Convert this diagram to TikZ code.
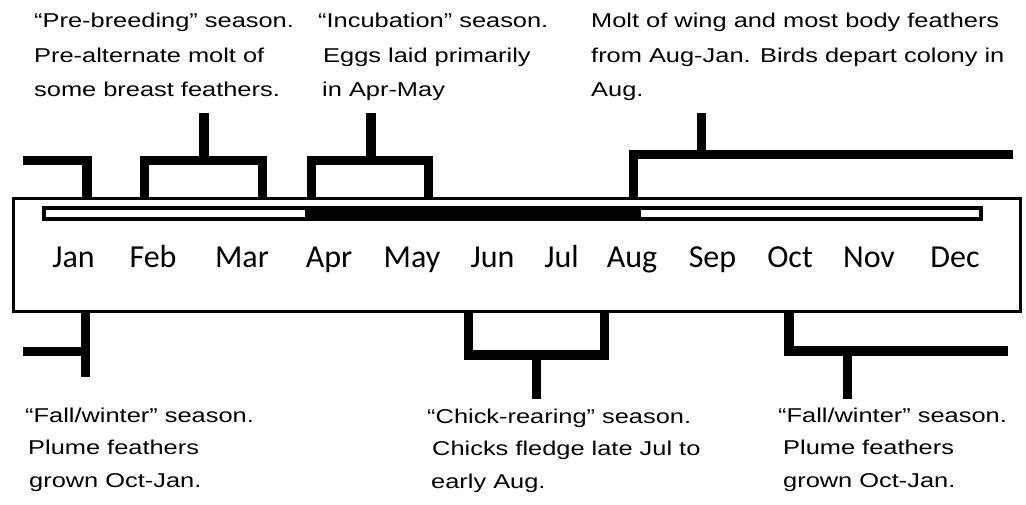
\documentclass[tikz,border=0pt]{standalone}
\usepackage{fontspec}
\newfontfamily\annfont[FakeStretch=1.27]{Liberation Sans}
\newfontfamily\monthfont{Carlito}
\begin{document}
\begin{tikzpicture}[x=1bp,y=-1bp,
  bracket/.style={line width=9.5bp, line join=miter, line cap=butt},
  anntop/.style={anchor=base west, inner sep=0, align=left, font=\annfont\fontsize{20bp}{34.5bp}\selectfont},
  annbot/.style={anchor=base west, inner sep=0, align=left, font=\annfont\fontsize{20bp}{32.5bp}\selectfont},
  month/.style={anchor=base, inner sep=0, font=\monthfont\fontsize{32bp}{38bp}\selectfont}]
\useasboundingbox (0,0) rectangle (1026,505);
% outer box
\draw[line width=3bp] (13,198.5) rectangle (1020,312);
% year bar
\draw[line width=4bp, fill=white] (44,208) rectangle (981,219);
\fill (305,206) rectangle (641,221);
% months
\foreach \m/\x in {Jan/73.5,Feb/153,Mar/242,Apr/329,May/412,Jun/492.5,Jul/561.5,Aug/632,Sep/712.5,Oct/790,Nov/869,Dec/955}
  \node[month] (m\m) at (\x,268) {\m};
% top brackets
\draw[bracket] (23,160.5) -- (87,160.5) -- (87,198);
\draw[bracket] (144.5,198) -- (144.5,160.5) -- (262.5,160.5) -- (262.5,198);
\draw[bracket] (204,113) -- (204,160.5);
\draw[bracket] (311.5,198) -- (311.5,160.5) -- (428.5,160.5) -- (428.5,198);
\draw[bracket] (371,113) -- (371,160.5);
\draw[bracket] (633.5,198) -- (633.5,154.5) -- (1013,154.5);
\draw[bracket] (701.5,113) -- (701.5,154.5);
% bottom brackets
\draw[bracket] (23,351.5) -- (85.5,351.5);
\draw[bracket] (85.5,312) -- (85.5,377);
\draw[bracket] (468.5,312) -- (468.5,355) -- (604.5,355) -- (604.5,312);
\draw[bracket] (536.5,355) -- (536.5,399);
\draw[bracket] (789,312) -- (789,351) -- (1008,351);
\draw[bracket] (847.5,351) -- (847.5,399);
% annotations top (anchored at baseline of last line)
\node[anntop] (prebreed) at (34,97) {“Pre-breeding” season.\\Pre-alternate molt of\\some breast feathers.};
\node[anntop] (incub) at (318,97) {“Incubation” season.\\\hspace*{5bp}Eggs laid primarily\\\hspace*{4bp}in Apr-May};
\node[anntop] (molt) at (591,97) {Molt of wing and most body feathers\\from Aug-Jan. Birds depart colony in\\Aug.};
% annotations bottom (anchored at baseline of last line)
\node[annbot] (fallL) at (25,487) {“Fall/winter” season.\\\hspace*{3bp}Plume feathers\\\hspace*{4bp}grown Oct-Jan.};
\node[annbot] (chick) at (427,488) {“Chick-rearing” season.\\\hspace*{5bp}Chicks fledge late Jul to\\\hspace*{4bp}early Aug.};
\node[annbot] (fallR) at (778,487) {“Fall/winter” season.\\\hspace*{5bp}Plume feathers\\\hspace*{5bp}grown Oct-Jan.};
\end{tikzpicture}
\end{document}
